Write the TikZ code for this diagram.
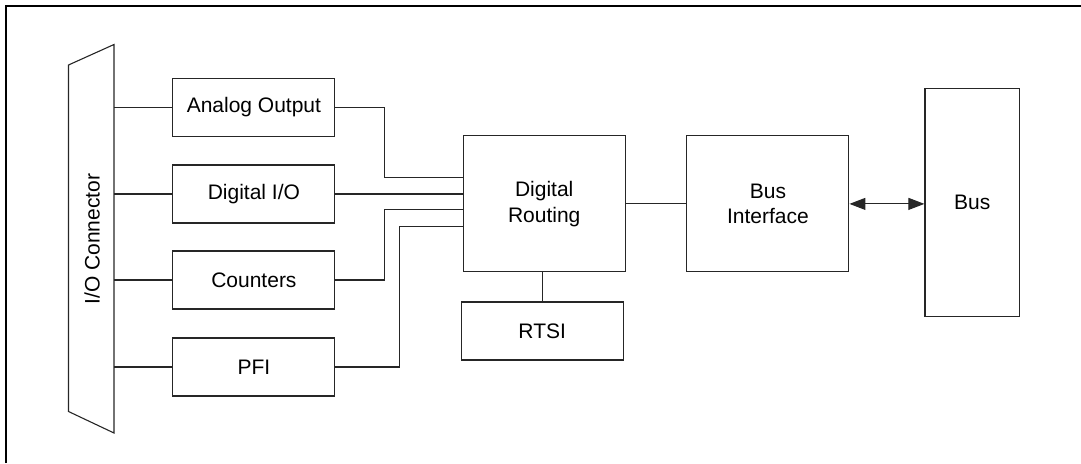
\documentclass[tikz,border=0pt]{standalone}
\usepackage{fontspec}
\setmainfont{Liberation Sans}
\usetikzlibrary{arrows.meta}

\tikzset{
	block/.style={draw=black!85, line width=1.1pt, rectangle, inner sep=0pt,
		minimum width=162pt, minimum height=58pt, align=center,
		font=\fontsize{21}{25.5}\selectfont},
	wire/.style={draw=black!85, line width=1.1pt},
	busarrow/.style={wire, {Triangle[length=16pt,width=12pt]}-{Triangle[length=16pt,width=12pt]}}
}

\begin{document}
\begin{tikzpicture}[x=1pt, y=-1pt]
	\useasboundingbox (0,0) rectangle (1081,463);
	% frame
	\draw[line width=2.6pt] (6,463) -- (6,6) -- (1081,6);
	% I/O connector
	\draw[wire] (68.5,65) -- (114,44.5) -- (114,433) -- (68.5,411.5) -- cycle;
	\node[rotate=90, font=\fontsize{21}{25.5}\selectfont] (io) at (92,239) {I/O Connector};
	\coordinate (ioR) at (114,239);
	% blocks
	\node[block] (ao) at (253.9,107.5) {Analog Output};
	\node[block] (dio) at (253.9,194) {Digital I/O};
	\node[block] (cnt) at (253.9,280) {Counters};
	\node[block] (pfi) at (253.9,367) {PFI};
	\node[block, minimum height=136pt] (dr) at (544.2,203.9) {Digital\\Routing};
	\node[block] (rtsi) at (542.2,331) {RTSI};
	\node[block, minimum height=136pt] (bi) at (767.9,203.9) {Bus\\Interface};
	\node[block, minimum width=94.5pt, minimum height=228.4pt] (bus) at (972.2,202.5) {Bus};
	% connector to blocks
	\draw[wire] (ao.west -| ioR) -- (ao.west);
	\draw[wire] (dio.west -| ioR) -- (dio.west);
	\draw[wire] (cnt.west -| ioR) -- (cnt.west);
	\draw[wire] (pfi.west -| ioR) -- (pfi.west);
	% blocks to routing
	\draw[wire] (ao.east) -- ++(49.3,0) |- ([yshift=26.2pt]dr.west);
	\draw[wire] (dio.east) -- (dio.east -| dr.west);
	\draw[wire] (cnt.east) -- ++(49.3,0) |- ([yshift=-5.4pt]dr.west);
	\draw[wire] (pfi.east) -- ++(64,0) |- ([yshift=-22.8pt]dr.west);
	\draw[wire] (rtsi.north) -- (rtsi.north |- dr.south);
	\draw[wire] (dr.east) -- (bi.west);
	\draw[busarrow] (bi.east) -- (bi.east -| bus.west);
\end{tikzpicture}
\end{document}
